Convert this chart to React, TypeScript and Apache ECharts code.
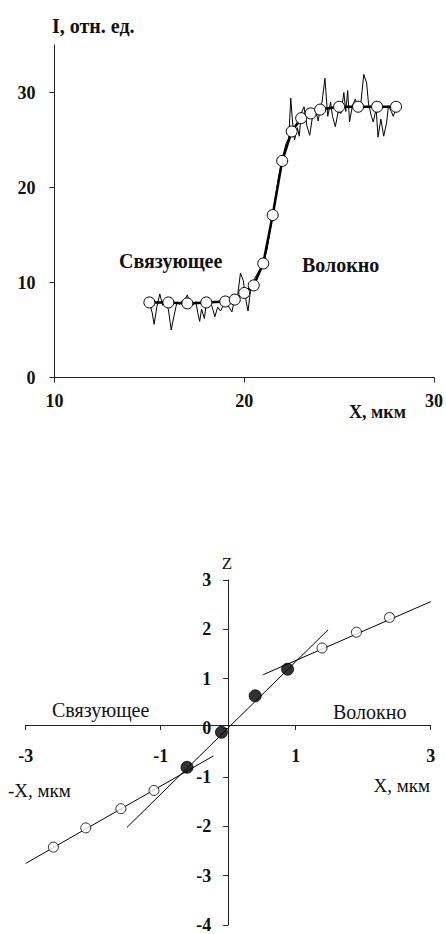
import React, { useEffect, useRef } from "react";
import * as echarts from "echarts";

// ---- Top chart: intensity profile ----
const topXTicks = [10, 20, 30];
const topYTicks = [0, 10, 20, 30];
const smoothX = [15, 16, 17, 18, 19, 19.5, 20, 20.5, 21, 21.5, 22, 22.5, 23, 23.5, 24, 25, 26, 27, 28];
const smoothY = [7.9, 7.9, 7.8, 7.9, 8.0, 8.2, 8.9, 9.7, 12.0, 17.1, 22.8, 25.9, 27.3, 27.8, 28.2, 28.5, 28.5, 28.5, 28.5];
const rawX = [
  15.0, 15.15, 15.25, 15.4, 15.55, 15.7, 15.85, 16.0, 16.15, 16.3, 16.45, 16.6, 16.75, 16.9, 17.0, 17.15,
  17.3, 17.45, 17.55, 17.65, 17.75, 17.9, 18.0, 18.15, 18.3, 18.45, 18.6, 18.75, 18.9, 19.05, 19.2, 19.35,
  19.5, 19.65, 19.8, 19.95, 20.1, 20.2, 20.35, 20.5, 20.65, 20.8, 21.0, 21.2, 21.4, 21.6, 21.8, 22.0, 22.2,
  22.35, 22.45, 22.55, 22.65, 22.8, 22.9, 23.0, 23.15, 23.3, 23.45, 23.6, 23.75, 23.9, 24.0, 24.1, 24.25,
  24.4, 24.55, 24.65, 24.8, 24.95, 25.1, 25.25, 25.35, 25.45, 25.55, 25.7, 25.85, 26.0, 26.15, 26.3, 26.45,
  26.55, 26.7, 26.8, 26.95, 27.05, 27.2, 27.35, 27.5, 27.6, 27.75, 27.85, 28.0,
];
const rawY = [
  7.9, 6.8, 5.6, 7.5, 8.8, 7.6, 7.9, 7.2, 5.0, 6.5, 7.9, 7.7, 8.1, 8.3, 8.7, 7.8,
  7.6, 8.0, 6.8, 5.9, 7.2, 6.2, 7.8, 7.9, 7.5, 6.4, 7.4, 7.0, 7.6, 8.2, 7.4, 6.9,
  8.3, 8.6, 11.0, 10.2, 8.0, 7.0, 9.5, 10.2, 10.8, 11.3, 12.0, 13.5, 15.8, 18.5, 21.0, 23.0, 24.6,
  25.2, 29.4, 26.8, 25.0, 26.3, 25.4, 27.8, 28.5, 26.5, 25.5, 27.5, 28.2, 27.0, 28.5, 29.0, 31.5,
  27.5, 29.0, 27.5, 26.4, 28.0, 27.8, 30.0, 28.0, 30.2, 26.9, 28.6, 29.3, 28.5, 29.0, 31.9, 31.0,
  28.8, 27.5, 26.9, 28.3, 25.3, 27.2, 25.4, 26.8, 28.6, 28.0, 27.5, 28.3,
];

// ---- Bottom chart: Z vs X ----
const bottomXTicks = [-3, -1, 1, 3];
const bottomZTicks = [3, 2, 1, 0, -1, -2, -3, -4];
const binderX = [-2.59, -2.11, -1.59, -1.1];
const binderZ = [-2.42, -2.03, -1.64, -1.27];
const fiberX = [1.39, 1.9, 2.39];
const fiberZ = [1.62, 1.94, 2.24];
const interX = [-0.61, -0.1, 0.4, 0.88];
const interZ = [-0.8, -0.09, 0.65, 1.19];
const binderFitX = [-3.0, -0.22];
const binderFitZ = [-2.75, -0.57];
const interFitX = [-1.5, 1.48];
const interFitZ = [-2.02, 1.99];
const fiberFitX = [0.52, 3.0];
const fiberFitZ = [1.08, 2.56];

const zip = (a: number[], b: number[]) => a.map((v, i) => [v, b[i]]);

const FONT = '"Liberation Serif", "Times New Roman", serif';
const INK = "#111";
const AXIS = "#222";

// bottom grid geometry
const G2 = { left: 25.7, top: 580, width: 405, height: 350 };
const X2 = { min: -3, max: 3 };
const Z2 = { min: -4, max: 3 };

export default function App() {
  const ref = useRef<HTMLDivElement>(null);
  useEffect(() => {
    if (!ref.current) return;
    const chart = echarts.init(ref.current, undefined, { renderer: "svg" });
    const tickLabel = { fontFamily: FONT, fontWeight: "bold", fontSize: 18, color: INK };
    const text = (t: string, x: number, y: number, size: number, weight: string, align = "left") => ({
      type: "text",
      x,
      y,
      style: { text: t, font: `${weight} ${size}px ${FONT}`, fill: INK, textAlign: align, textVerticalAlign: "middle" },
    });
    // place bottom axes through the origin
    const xAxisOffset = -((0 - Z2.min) / (Z2.max - Z2.min)) * G2.height;
    const yAxisOffset = -((0 - X2.min) / (X2.max - X2.min)) * G2.width;
    chart.setOption({
      animation: false,
      backgroundColor: "#fff",
      grid: [
        { left: 54.5, top: 45, width: 380.5, height: 332.5 },
        G2,
      ],
      xAxis: [
        {
          type: "value", gridIndex: 0, min: 10, max: 30, interval: 10,
          splitLine: { show: false },
          axisLine: { lineStyle: { color: AXIS, width: 1 } },
          axisTick: { length: 5, lineStyle: { color: AXIS }, customValues: topXTicks },
          axisLabel: { ...tickLabel, margin: 14, customValues: topXTicks },
        },
        {
          type: "value", gridIndex: 1, min: X2.min, max: X2.max, interval: 1,
          position: "bottom", offset: xAxisOffset,
          splitLine: { show: false },
          axisLine: { onZero: false, lineStyle: { color: AXIS, width: 1 } },
          axisTick: { length: 5, lineStyle: { color: AXIS }, customValues: bottomXTicks },
          axisLabel: { ...tickLabel, margin: 22, customValues: bottomXTicks },
        },
      ],
      yAxis: [
        {
          type: "value", gridIndex: 0, min: 0, max: 35, interval: 5,
          splitLine: { show: false },
          axisLine: { show: true, lineStyle: { color: AXIS, width: 1 } },
          axisTick: { show: true, length: 5, lineStyle: { color: AXIS }, customValues: topYTicks },
          axisLabel: { ...tickLabel, margin: 19, customValues: topYTicks },
        },
        {
          type: "value", gridIndex: 1, min: Z2.min, max: Z2.max, interval: 1,
          position: "left", offset: yAxisOffset,
          splitLine: { show: false },
          axisLine: { show: true, onZero: false, lineStyle: { color: AXIS, width: 1 } },
          axisTick: { show: true, length: 5, lineStyle: { color: AXIS }, customValues: bottomZTicks },
          axisLabel: { ...tickLabel, margin: 17, customValues: bottomZTicks },
        },
      ],
      series: [
        {
          type: "line", xAxisIndex: 0, yAxisIndex: 0, data: zip(rawX, rawY),
          showSymbol: false, lineStyle: { color: "#000", width: 1 }, z: 2,
        },
        {
          type: "line", xAxisIndex: 0, yAxisIndex: 0, data: zip(smoothX, smoothY),
          symbol: "circle", symbolSize: 11, showSymbol: true,
          lineStyle: { color: "#000", width: 2.5 },
          itemStyle: { color: "#fff", borderColor: "#000", borderWidth: 1 }, z: 3,
        },
        {
          type: "line", xAxisIndex: 1, yAxisIndex: 1, data: zip(binderFitX, binderFitZ),
          showSymbol: false, lineStyle: { color: "#000", width: 1 },
        },
        {
          type: "line", xAxisIndex: 1, yAxisIndex: 1, data: zip(interFitX, interFitZ),
          showSymbol: false, lineStyle: { color: "#000", width: 1 },
        },
        {
          type: "line", xAxisIndex: 1, yAxisIndex: 1, data: zip(fiberFitX, fiberFitZ),
          showSymbol: false, lineStyle: { color: "#000", width: 1 },
        },
        {
          type: "scatter", xAxisIndex: 1, yAxisIndex: 1, data: zip(binderX, binderZ).concat(zip(fiberX, fiberZ)),
          symbol: "circle", symbolSize: 10,
          itemStyle: { color: "#fff", borderColor: "#000", borderWidth: 1 }, z: 4,
        },
        {
          type: "scatter", xAxisIndex: 1, yAxisIndex: 1, data: zip(interX, interZ),
          symbol: "circle", symbolSize: 12,
          itemStyle: { color: "#000", borderColor: "#000", borderWidth: 1 }, z: 4,
        },
      ],
      graphic: [
        text("I, отн. ед.", 52, 26, 20, "bold"),
        text("Связующее", 119, 261, 20, "bold"),
        text("Волокно", 302, 265, 20, "bold"),
        text("X, мкм", 349, 412, 18, "bold"),
        text("Z", 227, 563, 17, "normal", "center"),
        text("Связующее", 52, 710, 20, "normal"),
        text("Волокно", 333, 712, 20, "normal"),
        text("-X, мкм", 8, 790, 19, "normal"),
        text("X, мкм", 430, 785, 19, "normal", "right"),
      ],
    });
    return () => chart.dispose();
  }, []);
  return <div ref={ref} style={{ position: "absolute", left: 0, top: 0, width: 446, height: 934 }} />;
}
